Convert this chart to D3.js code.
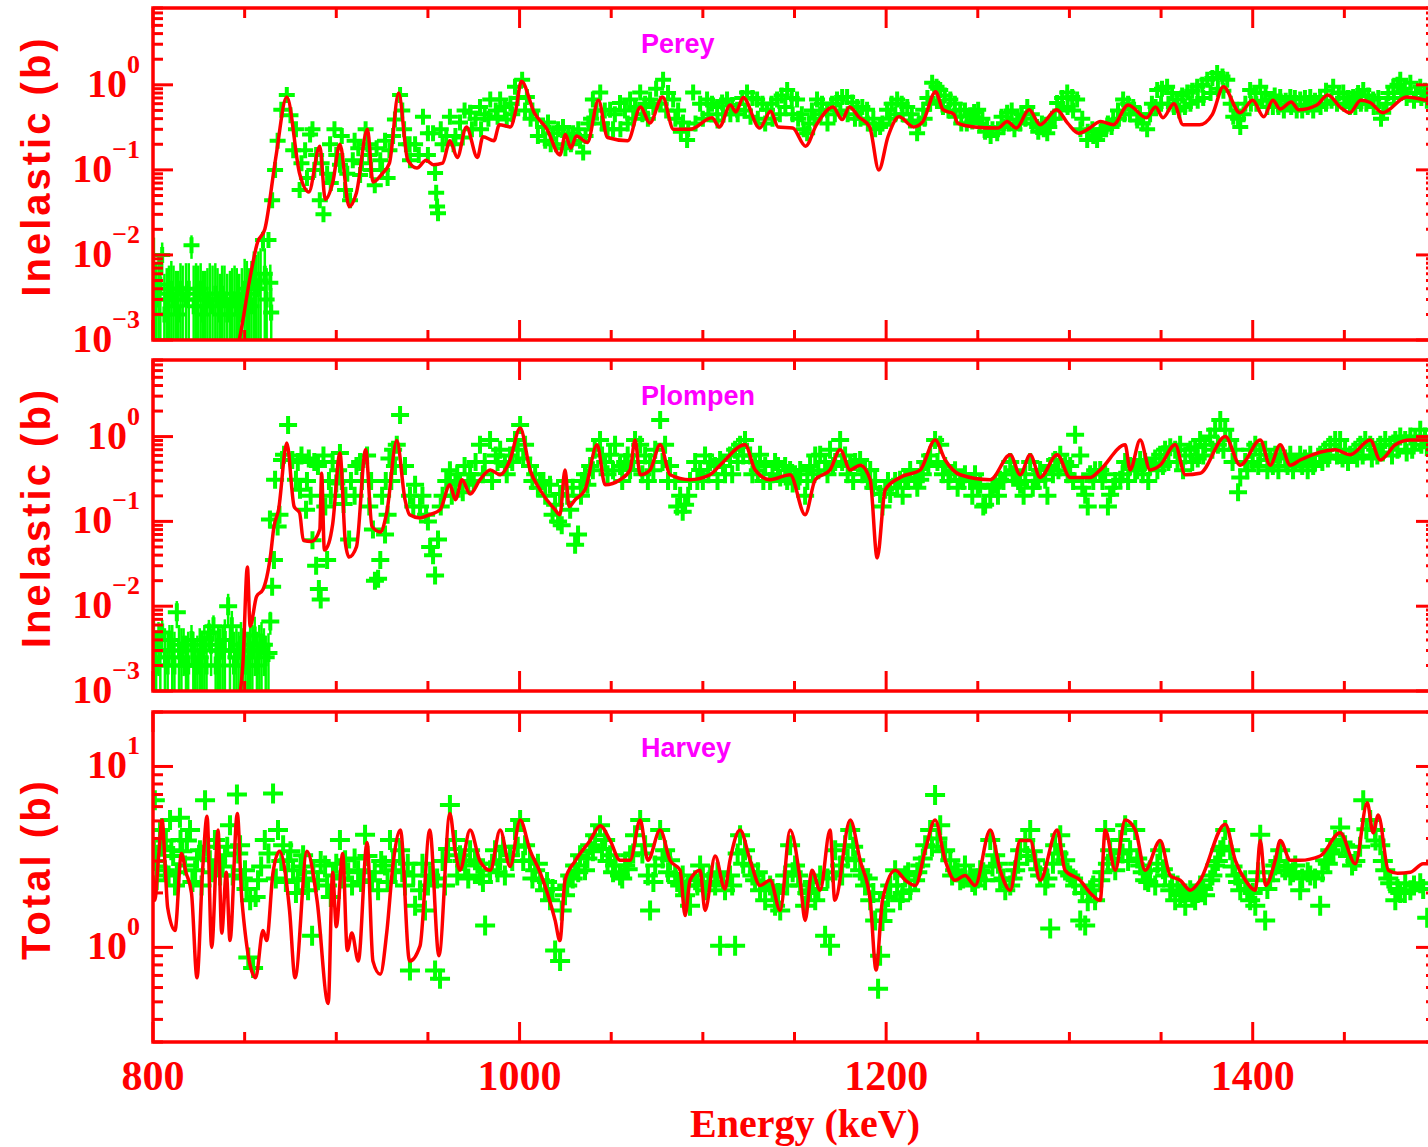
<!DOCTYPE html>
<html>
<head>
<meta charset="utf-8">
<script src="https://cdn.jsdelivr.net/npm/d3@7"></script>
<style>
  body { margin: 0; background: #fff; }
  svg { display: block; }
</style>
</head>
<body>
<svg id="chart"></svg>
<script>
// ---- data: [energy keV, cross section b] ----

const energyTicks = [800, 1000, 1200, 1400];

// Perey (inelastic)
const pereyModel = [[845,0.0007],[847,0.001],[853,0.0055],[857,0.014],[861,0.02],[867,0.14],[873,0.72],[880,0.09],[885,0.055],[891,0.19],[894,0.045],[898,0.07],[902,0.2],[907,0.037],[911,0.054],[917,0.3],[920,0.072],[925,0.09],[929,0.12],[934,0.8],[939,0.13],[944,0.105],[949,0.13],[953,0.115],[958,0.12],[962,0.22],[966,0.14],[971,0.32],[977,0.14],[980,0.245],[986,0.22],[989,0.34],[995,0.32],[998,0.51],[1001,1.1],[1008,0.47],[1015,0.3],[1022,0.15],[1025,0.26],[1028,0.18],[1031,0.25],[1037,0.21],[1043,0.66],[1048,0.24],[1059,0.22],[1066,0.55],[1071,0.355],[1078,0.72],[1084,0.3],[1093,0.3],[1105,0.41],[1109,0.32],[1115,0.58],[1118,0.48],[1122,0.71],[1131,0.31],[1137,0.49],[1141,0.32],[1149,0.31],[1156,0.19],[1162,0.34],[1171,0.55],[1176,0.39],[1180,0.55],[1185,0.42],[1191,0.32],[1196,0.10],[1201,0.245],[1207,0.42],[1215,0.32],[1220,0.37],[1227,0.83],[1231,0.51],[1237,0.45],[1239,0.355],[1248,0.32],[1261,0.31],[1266,0.37],[1271,0.31],[1278,0.51],[1284,0.34],[1293,0.51],[1299,0.355],[1305,0.27],[1311,0.31],[1317,0.37],[1324,0.34],[1332,0.58],[1342,0.41],[1347,0.55],[1351,0.41],[1357,0.60],[1362,0.34],[1371,0.34],[1378,0.45],[1384,0.95],[1393,0.47],[1400,0.66],[1406,0.42],[1411,0.66],[1415,0.52],[1421,0.63],[1425,0.51],[1435,0.58],[1441,0.76],[1448,0.54],[1453,0.47],[1459,0.66],[1464,0.62],[1471,0.47],[1484,0.72],[1495,0.66],[1500,0.64]];

// [energy, value, error] below threshold
const pereyLow = [[800.5,0.005,0.011],[801.7,0.003,0.005],[803,0.004,0.006],[804,0.0045,0.005],[805,0.01,0.004],[806.2,0.002,0.004],[807.5,0.003,0.004],[808.7,0.0035,0.004],[810,0.004,0.0045],[811.2,0.003,0.0045],[812.5,0.0025,0.004],[813.7,0.002,0.0045],[815,0.004,0.004],[816.2,0.0035,0.004],[818,0.003,0.005],[819.5,0.004,0.004],[821,0.013,0.004],[822.2,0.0025,0.005],[823.5,0.003,0.005],[824.7,0.0035,0.004],[826,0.004,0.004],[827.2,0.002,0.0045],[828.5,0.0025,0.004],[829.7,0.003,0.004],[831,0.003,0.005],[832.5,0.0025,0.005],[834,0.0035,0.0045],[835.2,0.003,0.004],[836.5,0.002,0.004],[837.7,0.0035,0.004],[839,0.003,0.0045],[840.5,0.002,0.004],[842,0.0025,0.004],[843.2,0.003,0.004],[844.5,0.003,0.0045],[845.7,0.0025,0.0045],[847,0.002,0.004],[848.5,0.003,0.004],[850,0.004,0.005],[851.2,0.0035,0.005],[852.5,0.003,0.004],[853.7,0.0025,0.006],[855,0.005,0.006],[856.2,0.004,0.006],[857.5,0.004,0.007],[858.7,0.005,0.007],[860,0.015,0.004],[861,0.006,0.006],[862,0.003,0.004],[864,0.0047,0.003],[864.5,0.0021,0.002]];

const pereyData = [[863,0.015],[865,0.044],[866.6,0.10],[868,0.22],[870,0.51],[873,0.76],[875,0.44],[876.5,0.17],[880,0.058],[883,0.17],[885.7,0.26],[888,0.10],[891,0.044],[893,0.03],[896.6,0.20],[899,0.30],[902,0.115],[904.8,0.058],[907.5,0.044],[910,0.22],[913,0.087],[916,0.30],[918,0.15],[921,0.066],[924,0.13],[926.6,0.22],[929,0.17],[932,0.39],[934.8,0.76],[937,0.30],[940.2,0.13],[943,0.2],[947.3,0.42],[950,0.15],[952.8,0.27],[953.9,0.092],[954.5,0.054],[955,0.037],[955.5,0.031],[958,0.2],[962,0.42],[965,0.25],[967.5,0.36],[970,0.5],[973,0.47],[976,0.4],[978.4,0.55],[981,0.45],[984,0.67],[987,0.5],[989.4,0.67],[993,0.39],[995,0.6],[997.5,0.95],[1001.4,1.15],[1004,0.72],[1007,0.5],[1009.5,0.39],[1012.8,0.32],[1015.5,0.36],[1018.3,0.27],[1021,0.3],[1023.7,0.32],[1026.5,0.25],[1029.2,0.27],[1032,0.3],[1034.7,0.16],[1037.5,0.35],[1040,0.67],[1044,0.81],[1046.5,0.5],[1049.4,0.51],[1052,0.45],[1054.8,0.61],[1057.5,0.5],[1060.3,0.67],[1063,0.55],[1065.8,0.81],[1068.5,0.6],[1071.2,0.67],[1074.5,0.9],[1078.3,1.15],[1081,0.8],[1083.8,0.67],[1086.5,0.5],[1089.2,0.36],[1091.4,0.225],[1094.7,0.81],[1098.5,0.6],[1102.3,0.67],[1105,0.6],[1107.8,0.55],[1110.5,0.62],[1113.2,0.67],[1116,0.58],[1118.7,0.51],[1121.5,0.7],[1124.1,0.81],[1127,0.7],[1129.6,0.67],[1132.5,0.6],[1135,0.51],[1137.5,0.6],[1140.5,0.67],[1143,0.75],[1146,0.87],[1148.5,0.7],[1151.4,0.67],[1154,0.45],[1156.9,0.27],[1159.5,0.5],[1162.3,0.67],[1165,0.6],[1167.8,0.51],[1170.5,0.6],[1173.2,0.67],[1176,0.72],[1178.7,0.72],[1181.5,0.62],[1184.2,0.55],[1187,0.55],[1189.6,0.51],[1193,0.4],[1196.7,0.32],[1200.5,0.51],[1203,0.6],[1206,0.67],[1208.5,0.6],[1211.5,0.55],[1214,0.45],[1216.9,0.27],[1220.2,0.51],[1222.5,0.7],[1225.1,1.06],[1227.5,0.95],[1229.5,0.87],[1232,0.75],[1235,0.67],[1237.5,0.6],[1240.4,0.51],[1243,0.5],[1245.8,0.44],[1248,0.48],[1250.2,0.51],[1252.5,0.4],[1255.1,0.32],[1258,0.3],[1260.6,0.27],[1263,0.42],[1266,0.47],[1268.5,0.5],[1271.5,0.39],[1274,0.45],[1277,0.55],[1279.5,0.45],[1282.4,0.32],[1285,0.35],[1287.9,0.27],[1290.5,0.4],[1293.3,0.61],[1296,0.7],[1298.8,0.81],[1301.5,0.72],[1304.2,0.67],[1307,0.4],[1309.7,0.225],[1312.5,0.3],[1315.1,0.225],[1318.4,0.3],[1321,0.35],[1323.9,0.39],[1326.5,0.5],[1329.3,0.67],[1332,0.6],[1334.8,0.55],[1338.5,0.45],[1342.4,0.3],[1345,0.6],[1347.9,0.87],[1350.5,0.9],[1353.3,0.95],[1356,0.8],[1358.8,0.67],[1361.5,0.75],[1364.3,0.81],[1367,0.85],[1369.7,0.95],[1372.5,1.0],[1375.2,1.15],[1378,1.2],[1380.6,1.38],[1383.5,1.25],[1386.1,1.15],[1389.4,0.42],[1391.5,0.5],[1393.2,0.32],[1396,0.6],[1398.6,0.87],[1401.5,0.8],[1404.1,0.95],[1407,0.8],[1409.5,0.67],[1412,0.75],[1415,0.72],[1418,0.65],[1420.5,0.72],[1423,0.7],[1425.9,0.67],[1428.5,0.7],[1431.4,0.72],[1434,0.65],[1436.8,0.72],[1440,0.85],[1443.9,0.95],[1447,0.8],[1449.4,0.81],[1452,0.7],[1454.8,0.72],[1457.5,0.8],[1460.3,0.87],[1463,0.75],[1465.7,0.67],[1468.5,0.7],[1471.2,0.47],[1474,0.8],[1476.7,0.95],[1479,1.0],[1480.5,1.15],[1483,0.9],[1486,1.06],[1489,0.8],[1491.4,0.95],[1494,0.85]];

// lower half of the dense Perey band
const pereyBand = [[878,0.3],[881,0.12],[884,0.08],[887,0.3],[889,0.15],[892,0.12],[895,0.09],[897,0.07],[900,0.15],[903,0.25],[906,0.09],[909,0.13],[912,0.18],[914,0.12],[917,0.2],[919,0.1],[922,0.18],[925,0.1],[928,0.08],[931,0.25],[936,0.5],[938,0.2],[940,0.2],[945,0.15],[950,0.27],[957,0.3],[960,0.25],[964,0.2],[969,0.24],[974,0.3],[979,0.3],[983,0.4],[988,0.42],[992,0.55],[996,0.45],[999,0.7],[1003,0.5],[1006,0.4],[1010,0.25],[1014,0.22],[1017,0.2],[1020,0.2],[1025,0.18],[1028,0.2],[1033,0.22],[1036,0.25],[1039,0.4],[1042,0.5],[1045,0.35],[1048,0.3],[1051,0.3],[1055,0.3],[1059,0.35],[1062,0.4],[1067,0.45],[1070,0.4],[1073,0.55],[1077,0.6],[1080,0.5],[1085,0.4],[1088,0.28],[1092,0.3],[1096,0.35],[1100,0.4],[1103,0.45],[1108,0.38],[1111,0.45],[1115,0.45],[1119,0.45],[1123,0.5],[1126,0.42],[1130,0.4],[1134,0.35],[1138,0.4],[1142,0.45],[1145,0.55],[1149,0.45],[1152,0.4],[1155,0.3],[1158,0.35],[1161,0.4],[1164,0.45],[1168,0.35],[1172,0.45],[1175,0.5],[1179,0.45],[1183,0.4],[1186,0.4],[1190,0.35],[1194,0.3],[1198,0.35],[1202,0.4],[1205,0.45],[1209,0.45],[1213,0.38],[1218,0.35],[1221,0.4],[1224,0.6],[1228,0.65],[1231,0.55],[1234,0.5],[1238,0.42],[1241,0.35],[1244,0.35],[1247,0.37],[1251,0.35],[1254,0.28],[1257,0.25],[1261,0.3],[1264,0.32],[1267,0.35],[1270,0.3],[1273,0.35],[1276,0.4],[1280,0.35],[1283,0.28],[1286,0.3],[1289,0.32],[1292,0.4],[1295,0.5],[1299,0.55],[1302,0.5],[1306,0.3],[1310,0.28],[1313,0.25],[1317,0.28],[1320,0.3],[1323,0.32],[1327,0.4],[1330,0.45],[1333,0.45],[1337,0.38],[1340,0.35],[1344,0.45],[1347,0.55],[1350,0.6],[1354,0.6],[1357,0.55],[1360,0.5],[1363,0.55],[1366,0.6],[1370,0.65],[1373,0.7],[1377,0.8],[1381,0.9],[1384,0.85],[1388,0.6],[1392,0.4],[1395,0.45],[1399,0.6],[1402,0.6],[1405,0.65],[1408,0.55],[1411,0.55],[1414,0.55],[1417,0.5],[1421,0.55],[1424,0.5],[1427,0.5],[1430,0.55],[1433,0.5],[1437,0.55],[1440,0.6],[1443,0.65],[1446,0.6],[1450,0.6],[1453,0.55],[1456,0.55],[1459,0.6],[1462,0.6],[1466,0.55],[1470,0.4],[1473,0.6],[1477,0.7],[1481,0.8],[1484,0.7],[1488,0.65],[1492,0.7],[1495,0.65]];

// Plompen (inelastic)
const plompenModel = [[845,0.0006],[847,0.0008],[849,0.002],[851.5,0.029],[853,0.0058],[856.5,0.013],[860,0.0157],[864,0.038],[866,0.087],[868.5,0.137],[873,0.84],[877,0.15],[880,0.126],[882,0.06],[886.5,0.058],[891,0.08],[892,0.37],[893.5,0.046],[896,0.056],[898,0.092],[902,0.64],[905,0.055],[907,0.038],[911,0.05],[916,0.7],[919.5,0.087],[924,0.075],[927.5,0.126],[933,0.9],[937.5,0.18],[940,0.12],[945.7,0.11],[951,0.12],[956.6,0.137],[962,0.27],[965,0.18],[968.6,0.31],[973,0.21],[978.4,0.31],[984,0.405],[989.4,0.355],[994.8,0.53],[1000.3,1.26],[1005.7,0.405],[1011.2,0.236],[1019.4,0.137],[1022,0.12],[1024.8,0.405],[1027,0.15],[1030.3,0.18],[1035.7,0.236],[1042.3,0.8],[1046.7,0.27],[1054.8,0.31],[1060.3,0.405],[1063,0.91],[1065.8,0.355],[1071.2,0.405],[1076.7,0.8],[1082.1,0.355],[1093,0.31],[1103.9,0.355],[1109.4,0.46],[1123,0.8],[1128.5,0.405],[1136.7,0.31],[1147.6,0.355],[1155.8,0.12],[1161.3,0.31],[1169.4,0.405],[1174.9,0.7],[1180.4,0.405],[1185.8,0.46],[1191.3,0.31],[1195.1,0.037],[1199.5,0.236],[1207.6,0.33],[1218.6,0.405],[1226.7,0.91],[1232.2,0.53],[1240.4,0.355],[1256.8,0.31],[1267.7,0.61],[1273.1,0.355],[1278.6,0.61],[1284,0.33],[1293.3,0.61],[1300.4,0.33],[1311.3,0.33],[1316.8,0.405],[1330.4,0.8],[1333.1,0.405],[1338.6,0.91],[1344,0.405],[1349.5,0.46],[1357.7,0.8],[1363.2,0.355],[1371.3,0.37],[1385,1.0],[1393.2,0.46],[1404.1,0.91],[1409.5,0.46],[1415,0.8],[1420.5,0.46],[1425.9,0.53],[1445,0.7],[1453.2,0.61],[1464.1,0.91],[1469.6,0.53],[1477.8,0.8],[1486,0.91],[1495,0.91],[1500,0.9]];

const plompenLow = [[800.5,0.003,0.004],[801.7,0.002,0.003],[803,0.004,0.0025],[804,0.003,0.003],[805,0.0049,0.002],[806.5,0.0025,0.003],[808,0.002,0.003],[809,0.004,0.002],[810.5,0.003,0.003],[811.7,0.002,0.003],[813,0.0085,0.003],[814.2,0.003,0.003],[815.5,0.0025,0.003],[816.7,0.0035,0.002],[818,0.002,0.0025],[819.2,0.002,0.003],[821,0.004,0.002],[822,0.003,0.002],[823,0.002,0.002],[824.2,0.002,0.0025],[825.5,0.0025,0.003],[826.7,0.003,0.002],[828,0.0035,0.0025],[829.2,0.002,0.003],[830.5,0.0049,0.002],[831.7,0.0035,0.002],[833,0.0058,0.002],[834.2,0.002,0.003],[835.5,0.003,0.003],[836.7,0.003,0.0025],[838,0.003,0.003],[839.2,0.004,0.003],[841,0.01,0.004],[842,0.003,0.003],[843,0.0058,0.003],[844.2,0.002,0.003],[845.5,0.0025,0.003],[846.7,0.003,0.002],[848,0.0035,0.003],[849.2,0.0025,0.003],[850.5,0.002,0.003],[851.7,0.002,0.003],[853,0.003,0.003],[854.2,0.003,0.003],[855.5,0.0045,0.003],[856.7,0.002,0.003],[858,0.003,0.003],[859.2,0.0035,0.003],[860.5,0.0035,0.002],[861.5,0.0025,0.002],[863,0.0028,0.002],[864,0.0066,0.002]];

const plompenData = [[863.8,0.105],[865,0.017],[866,0.035],[866.6,0.31],[868,0.087],[869,0.12],[870.4,0.53],[871.5,0.61],[873.7,1.37],[876,0.53],[878,0.31],[880.2,0.236],[883.5,0.137],[885,0.55],[887,0.06],[889,0.03],[890.5,0.016],[891.5,0.012],[893,0.6],[895,0.035],[897,0.2],[900,0.28],[902,0.64],[904,0.16],[907,0.061],[910,0.2],[913,0.5],[916.8,0.6],[919,0.3],[921.1,0.02],[922.8,0.021],[924,0.035],[926.6,0.07],[928,0.12],[930,0.3],[932,0.45],[934.8,1.8],[937.5,0.45],[940.2,0.2],[943,0.27],[945.7,0.15],[949,0.12],[951.2,0.05],[952.8,0.04],[953.9,0.023],[955.5,0.061],[958,0.2],[962,0.4],[965,0.27],[967.5,0.3],[970,0.45],[973,0.36],[976,0.5],[978.4,0.8],[981,0.5],[983.9,0.91],[987,0.6],[989.4,0.7],[992,0.45],[994.8,0.6],[997.5,0.91],[1000.3,1.37],[1003,0.8],[1005.7,0.45],[1008.5,0.36],[1011.2,0.3],[1014,0.2],[1016.6,0.27],[1019.4,0.157],[1021,0.1],[1022.1,0.21],[1024.8,0.3],[1027.6,0.137],[1030.3,0.053],[1031.9,0.07],[1033.5,0.2],[1035.7,0.36],[1038.5,0.45],[1041,0.7],[1043.9,0.91],[1046.7,0.5],[1049.4,0.61],[1052.1,0.8],[1054.8,0.45],[1057.6,0.5],[1060.3,0.405],[1063,0.91],[1065.8,0.8],[1068.5,0.6],[1071.2,0.5],[1074,0.7],[1076.7,1.57],[1079.4,0.8],[1082.1,0.45],[1084.9,0.3],[1087.6,0.2],[1090.3,0.157],[1093,0.3],[1095.8,0.5],[1098.5,0.405],[1101.2,0.6],[1104,0.5],[1106.7,0.45],[1109.4,0.53],[1112.1,0.36],[1114.8,0.6],[1117.6,0.7],[1120.3,0.8],[1123,0.91],[1125.8,0.6],[1128.5,0.5],[1131.2,0.61],[1134,0.45],[1136.7,0.3],[1139.4,0.5],[1142.2,0.33],[1144.9,0.45],[1147.6,0.405],[1150.3,0.36],[1153.1,0.405],[1155.8,0.2],[1158.5,0.45],[1161.3,0.6],[1164,0.61],[1166.7,0.5],[1169.4,0.7],[1172.2,0.5],[1174.9,0.91],[1177.6,0.6],[1180.4,0.45],[1183.1,0.5],[1185.8,0.53],[1188.5,0.4],[1191.3,0.405],[1194,0.3],[1196.7,0.21],[1199.5,0.236],[1202.2,0.21],[1204.9,0.3],[1207.6,0.31],[1210.4,0.3],[1213.1,0.405],[1215.8,0.33],[1218.6,0.31],[1221.3,0.5],[1224,0.6],[1226.7,0.91],[1229.5,0.8],[1232.2,0.45],[1235,0.36],[1237.6,0.4],[1240.4,0.31],[1243,0.36],[1245.8,0.3],[1248.5,0.36],[1251.3,0.27],[1254,0.157],[1256.8,0.2],[1259.5,0.27],[1262.2,0.31],[1265,0.36],[1267.7,0.5],[1270.4,0.4],[1273.1,0.27],[1275.9,0.36],[1278.6,0.5],[1281.3,0.3],[1284,0.405],[1286.8,0.31],[1289.5,0.45],[1292.2,0.53],[1295,0.61],[1297.7,0.5],[1300.4,0.45],[1303.1,1.05],[1305.9,0.6],[1308.6,0.206],[1311.3,0.36],[1314,0.4],[1316.8,0.405],[1319.5,0.36],[1322.2,0.206],[1325,0.3],[1327.7,0.31],[1330.4,0.5],[1333.1,0.45],[1335.9,0.4],[1338.6,0.53],[1341.3,0.5],[1344,0.45],[1346.8,0.55],[1349.5,0.61],[1352.2,0.7],[1355,0.75],[1357.7,0.7],[1360.4,0.8],[1363.2,0.6],[1366,0.7],[1368.6,0.75],[1371.3,0.91],[1374,0.8],[1376.8,1.0],[1379.5,1.2],[1382.3,1.57],[1385,1.2],[1387.7,0.91],[1390.5,0.7],[1393.2,0.33],[1395.9,0.5],[1398.6,0.7],[1401.4,0.8],[1404.1,0.61],[1406.8,0.7],[1409.5,0.53],[1412.3,0.61],[1415,0.61],[1417.7,0.55],[1420.5,0.61],[1423.2,0.5],[1425.9,0.61],[1428.5,0.55],[1431.4,0.61],[1434,0.5],[1436.8,0.61],[1439.5,0.7],[1442.3,0.8],[1445,0.91],[1447.7,0.91],[1450.4,0.7],[1453.2,0.61],[1456,0.7],[1458.7,0.8],[1461.4,0.91],[1464.1,0.8],[1466.8,0.7],[1469.6,0.8],[1472.3,0.91],[1475,0.8],[1477.8,0.91],[1480.5,1.0],[1483.2,0.91],[1486,1.0],[1488.7,0.91],[1491.4,1.2],[1494,1.0]];

const plompenBand = [[879,0.5],[881,0.6],[884,0.3],[886,0.2],[888,0.5],[890,0.45],[894,0.15],[896,0.3],[898,0.5],[901,0.4],[903,0.3],[905,0.2],[908,0.3],[911,0.45],[914,0.3],[918,0.15],[920,0.08],[925,0.2],[927,0.3],[929,0.55],[931,0.7],[933,0.8],[942,0.15],[947,0.2],[950,0.1],[957,0.15],[960,0.3],[963,0.2],[966,0.36],[969,0.22],[972,0.27],[975,0.3],[980,0.36],[985,0.3],[988,0.5],[993,0.36],[996,0.5],[999,0.7],[1002,0.55],[1007,0.3],[1010,0.25],[1013,0.3],[1018,0.12],[1023,0.09],[1026,0.2],[1029,0.25],[1034,0.3],[1037,0.27],[1040,0.4],[1045,0.6],[1048,0.36],[1051,0.4],[1056,0.3],[1059,0.6],[1062,0.5],[1067,0.36],[1070,0.3],[1073,0.4],[1078,0.5],[1081,0.3],[1086,0.15],[1089,0.13],[1092,0.2],[1097,0.3],[1100,0.3],[1103,0.36],[1108,0.3],[1111,0.45],[1116,0.36],[1119,0.5],[1122,0.6],[1127,0.36],[1130,0.4],[1133,0.3],[1138,0.36],[1141,0.45],[1146,0.3],[1149,0.28],[1152,0.3],[1157,0.3],[1160,0.36],[1163,0.4],[1168,0.36],[1171,0.45],[1176,0.5],[1179,0.36],[1182,0.3],[1187,0.36],[1190,0.3],[1193,0.25],[1198,0.15],[1201,0.3],[1206,0.25],[1209,0.2],[1212,0.3],[1217,0.25],[1220,0.36],[1223,0.45],[1228,0.5],[1231,0.36],[1234,0.3],[1239,0.25],[1242,0.3],[1247,0.2],[1250,0.25],[1253,0.15],[1258,0.25],[1261,0.2],[1264,0.3],[1269,0.36],[1272,0.3],[1275,0.2],[1280,0.25],[1283,0.3],[1288,0.2],[1291,0.36],[1294,0.4],[1299,0.36],[1302,0.3],[1307,0.25],[1310,0.15],[1313,0.3],[1318,0.3],[1321,0.15],[1324,0.25],[1329,0.36],[1332,0.3],[1337,0.4],[1340,0.36],[1343,0.3],[1348,0.4],[1351,0.45],[1354,0.5],[1359,0.5],[1362,0.4],[1367,0.5],[1370,0.55],[1373,0.6],[1378,0.7],[1381,0.8],[1384,0.7],[1389,0.5],[1392,0.22],[1397,0.4],[1400,0.5],[1403,0.45],[1408,0.4],[1411,0.45],[1414,0.4],[1419,0.45],[1422,0.4],[1427,0.45],[1430,0.4],[1433,0.45],[1438,0.5],[1441,0.55],[1446,0.6],[1449,0.55],[1452,0.5],[1457,0.55],[1460,0.6],[1465,0.55],[1468,0.6],[1471,0.65],[1476,0.6],[1479,0.7],[1484,0.65],[1487,0.7],[1492,0.8],[1495,0.75]];

// Harvey (total)
const harveyModel = [[800,2.5],[801,1.82],[803,3.15],[805,5.06],[806.5,3.0],[808,1.66],[812,1.24],[815.5,3.3],[818,2.6],[821,2.0],[824,0.68],[827,2.6],[829.5,5.3],[832,1.0],[835.5,4.45],[837.5,1.2],[840,2.6],[842,1.09],[846,5.5],[848.5,1.82],[856,0.68],[860,1.24],[862,1.09],[865.5,2.6],[869,3.4],[874.5,1.6],[877.5,0.68],[884,3.4],[889.5,1.82],[895.6,0.49],[898,2.6],[900,1.3],[903.5,3.3],[906,0.96],[908.5,1.2],[912,0.84],[916.8,3.8],[920,0.84],[924,0.71],[927.5,1.2],[931,2.9],[935,4.45],[940,0.84],[945.7,1.02],[951,4.45],[956,0.9],[962,5.5],[964.8,3.44],[967.5,2.67],[973,4.45],[978.4,3.0],[984,2.67],[989.4,4.45],[994.8,2.8],[1000.3,5.06],[1005.7,3.44],[1011.2,2.6],[1019.4,1.41],[1022,1.09],[1024.8,2.35],[1030.3,3.0],[1038.5,3.9],[1044,4.7],[1049.4,3.9],[1054.8,3.03],[1060.3,3.03],[1065.8,5.06],[1070,3.03],[1076.7,4.45],[1082.1,3.03],[1087.6,2.67],[1090.3,1.5],[1093,2.35],[1098.5,2.67],[1101.2,1.6],[1106.7,3.2],[1112,2.1],[1114.8,3.03],[1120.3,4.45],[1125.8,3.03],[1131.2,2.2],[1136.7,2.35],[1142.2,1.6],[1147.6,4.45],[1153.1,2.35],[1155.8,1.41],[1159.5,2.67],[1164,2.07],[1169.4,4.45],[1172,1.82],[1180.4,5.06],[1185.8,3.03],[1191.3,1.82],[1194.5,0.75],[1198,1.82],[1205,2.67],[1210.5,2.35],[1216,2.2],[1221.3,3.44],[1226.7,5.06],[1232.2,3.03],[1237.6,2.35],[1243,2.5],[1248.5,2.2],[1256.8,4.45],[1262.2,2.67],[1267.7,2.07],[1273.1,3.9],[1278.6,3.9],[1284,2.35],[1293.3,4.45],[1297.6,2.67],[1305.8,2.35],[1311.3,2.0],[1316.8,1.82],[1319.5,4.45],[1325,2.67],[1330.4,5.06],[1336,4.45],[1341.3,2.67],[1349.5,3.9],[1355,2.5],[1360.4,2.35],[1366,2.07],[1371.3,2.35],[1385,4.8],[1390.5,3.03],[1396,2.35],[1401.5,2.07],[1404.1,3.9],[1407,2.2],[1412.3,3.03],[1415,3.9],[1420.5,3.03],[1425.9,3.03],[1436.8,3.2],[1447.7,4.3],[1456,2.9],[1462.5,6.3],[1465.7,4.3],[1468.5,5.4],[1474,2.67],[1479,2.57],[1486,2.6],[1493,2.9],[1500,2.9]];

const harveyData = [[801,6.5],[801.5,3.0],[802,2.35],[803.8,4.45],[806.5,2.67],[809.3,5.06],[810,3.44],[812,2.2],[814.7,5.2],[815,3.92],[817.5,2.84],[820.2,4.45],[823,2.67],[825.6,3.44],[828.4,6.5],[831,3.03],[833.8,3.92],[836.6,2.5],[839.3,3.23],[842,4.74],[845.8,7.0],[847.5,3.67],[850.2,2.67],[852,0.88],[853,1.82],[854.6,0.77],[857.3,2.35],[861,3.92],[865.5,7.1],[868.2,4.45],[871,3.67],[873.7,3.03],[876.4,2.67],[879,2.35],[881.9,3.23],[884.6,2.07],[886.8,1.16],[890,2.35],[893.9,2.84],[898.2,2.5],[902,3.92],[904.8,3.03],[908.6,2.2],[911.9,2.67],[915.7,4.2],[919.5,2.35],[922.8,2.07],[926.6,2.84],[929.3,3.92],[932,2.67],[934.8,3.44],[937.5,2.2],[940.2,0.745],[943,1.7],[945.7,2.07],[948.4,1.6],[951.2,2.5],[953.9,0.745],[956.6,0.67],[959.3,2.2],[962,6.13],[964.8,3.92],[967.5,3.23],[970.3,2.84],[973,3.44],[975.7,3.03],[978.4,2.5],[981.2,1.32],[983.9,2.67],[986.6,3.44],[989.4,3.03],[992,2.5],[994.8,3.23],[997.5,4.45],[1000.3,5.06],[1003,3.67],[1005.7,3.03],[1008.5,2.67],[1011.2,2.35],[1013.9,2.07],[1016.6,1.82],[1019.4,0.96],[1022.1,0.84],[1024.8,1.94],[1027.6,2.5],[1030.3,2.84],[1033,3.23],[1035.7,2.67],[1038.5,3.67],[1041.2,4.17],[1043.9,4.74],[1046.7,3.92],[1049.4,3.23],[1052.1,2.84],[1054.8,2.5],[1057.6,2.84],[1060.3,3.23],[1063,4.17],[1065.8,5.06],[1068.5,3.67],[1071.2,1.6],[1074,2.84],[1076.7,4.45],[1079.4,3.44],[1082.1,3.03],[1084.9,2.5],[1087.6,2.2],[1090.3,1.94],[1093,1.7],[1095.8,2.35],[1098.5,2.84],[1101.2,2.07],[1104,2.5],[1106.7,2.2],[1109.4,1.02],[1112.1,2.07],[1114.8,2.5],[1117.6,1.02],[1120.3,4.17],[1123,3.44],[1125.8,2.84],[1128.5,2.35],[1131.2,2.07],[1134,1.82],[1136.7,2.2],[1139.4,1.7],[1142.2,1.6],[1144.9,2.5],[1147.6,3.67],[1150.3,2.84],[1153.1,2.2],[1155.8,1.7],[1158.5,2.07],[1161.3,1.82],[1164,2.5],[1166.7,1.16],[1169.4,1.02],[1172.2,3.44],[1174.9,2.84],[1177.6,3.67],[1180.4,4.45],[1183.1,3.03],[1185.8,2.67],[1188.5,2.2],[1191.3,1.82],[1194,1.41],[1195.6,0.59],[1196.7,0.9],[1199.5,1.6],[1202.2,2.2],[1204.9,2.67],[1207.6,1.82],[1210.4,2.5],[1213.1,2.07],[1215.8,2.35],[1218.6,2.84],[1221.3,3.67],[1224,4.45],[1226.7,6.96],[1229.5,4.74],[1232.2,3.44],[1235,3.03],[1237.6,2.67],[1240.4,2.35],[1243,2.84],[1245.8,2.5],[1248.5,2.2],[1251.3,2.67],[1254,2.35],[1256.8,3.92],[1259.5,3.23],[1262.2,2.35],[1265,2.07],[1267.7,2.2],[1270.4,2.67],[1273.1,3.44],[1275.9,3.92],[1278.6,4.45],[1281.3,3.03],[1284,2.5],[1286.8,2.2],[1289.5,1.27],[1292.2,3.67],[1295,4.17],[1297.7,3.03],[1300.4,2.5],[1303.1,2.2],[1305.9,1.41],[1308.6,1.32],[1311.3,2.07],[1314,1.82],[1316.8,2.35],[1319.5,4.45],[1322.2,3.44],[1325,2.67],[1327.7,3.92],[1330.4,4.74],[1333.1,3.44],[1335.9,4.45],[1338.6,2.84],[1341.3,2.35],[1344,2.67],[1346.8,2.2],[1349.5,3.44],[1352.2,2.5],[1355,2.07],[1357.7,1.82],[1360.4,1.94],[1363.2,1.7],[1365.9,2.07],[1368.6,1.82],[1371.3,2.2],[1374,1.94],[1376.8,2.35],[1379.5,2.84],[1382.3,3.44],[1385,4.45],[1387.7,3.44],[1390.5,2.5],[1393.2,2.07],[1395.9,2.35],[1398.6,1.82],[1401.4,1.7],[1404.1,4.2],[1406.8,1.41],[1409.5,2.35],[1412.3,2.84],[1415,3.44],[1417.7,2.67],[1420.5,2.5],[1423.2,2.84],[1425.9,2.07],[1431.4,2.5],[1436.8,1.7],[1439.5,3.03],[1442.3,3.44],[1445,3.92],[1447.7,4.6],[1450.4,3.67],[1454.2,2.84],[1458.6,3.6],[1460.3,6.5],[1464.1,5.06],[1466.8,4.45],[1469.6,3.67],[1472.3,2.67],[1475,2.26],[1477.8,1.82],[1480.5,2.0],[1483.2,2.26],[1486,2.07],[1491.4,2.26],[1495.2,1.46]];

const harveyBand = [[800.5,3.5],[802.5,2.8],[804.5,3.6],[807,3.9],[808.5,2.5],[811,3.2],[813,2.6],[816,3.4],[818.5,3.9],[821.5,2.3],[824,3.1],[826.5,2.2],[829.5,3.6],[832.5,2.6],[835,3.0],[838,2.8],[840.5,3.6],[843.5,2.5],[846.5,3.3],[849,2.4],[851,2.1],[856,1.9],[859,2.8],[863,3.3],[867,2.4],[870,3.0],[872.5,2.3],[875,3.4],[878,2.0],[880.5,2.8],[883,2.4],[887.5,2.6],[891.5,3.0],[895,2.2],[897,1.9],[900,2.9],[903,2.4],[906.5,2.6],[910,3.1],[913.5,2.3],[917,3.2],[921,2.6],[924.5,3.0],[928,2.3],[931,3.0],[936,2.6],[939,2.9],[942,2.5],[947,2.9],[950,2.2],[955,2.4],[958,3.0],[961,3.5],[966,2.5],[969,3.0],[972,2.4],[977,2.9],[980,2.3],[985,2.9],[988,2.6],[991,3.6],[996,3.0],[999,3.6],[1002,3.0],[1007,2.4],[1010,2.9],[1015,2.3],[1018,2.1],[1023,1.6],[1026,2.2],[1029,2.4],[1032,2.6],[1037,3.1],[1040,3.4],[1045,3.5],[1048,3.0],[1051,2.6],[1056,2.4],[1059,2.7],[1062,3.3],[1067,3.3],[1070,2.5],[1073,2.3],[1078,3.1],[1081,2.6],[1086,2.3],[1089,2.5],[1092,2.2],[1097,2.2],[1100,2.5],[1103,2.3],[1108,2.6],[1111,2.3],[1116,2.2],[1119,3.3],[1122,2.9],[1127,2.5],[1130,2.6],[1133,2.3],[1138,2.1],[1141,2.0],[1146,2.2],[1149,2.6],[1152,2.5],[1157,2.0],[1160,2.3],[1163,2.1],[1168,2.4],[1171,2.6],[1176,2.5],[1179,3.1],[1182,3.6],[1187,2.5],[1190,2.4],[1193,2.0],[1198,1.4],[1201,1.9],[1206,2.2],[1209,2.0],[1212,2.6],[1217,2.6],[1220,3.1],[1225,3.6],[1228,4.0],[1231,3.4],[1236,2.5],[1239,2.6],[1242,2.4],[1247,2.3],[1250,2.4],[1253,2.6],[1258,2.8],[1261,2.9],[1264,2.4],[1269,2.4],[1272,2.9],[1277,3.2],[1280,3.4],[1283,2.7],[1288,2.4],[1291,2.9],[1294,3.3],[1299,2.6],[1302,2.4],[1307,2.0],[1310,1.8],[1313,2.2],[1318,2.6],[1321,2.9],[1324,3.1],[1329,3.3],[1332,3.0],[1337,3.1],[1340,2.6],[1343,2.3],[1348,2.9],[1351,2.7],[1356,2.2],[1359,2.2],[1362,2.0],[1367,1.9],[1370,2.0],[1373,2.1],[1378,2.5],[1381,3.0],[1384,3.6],[1389,2.8],[1392,2.3],[1397,2.1],[1400,2.0],[1403,2.6],[1408,2.1],[1411,2.6],[1414,3.0],[1419,2.8],[1422,2.6],[1427,2.4],[1430,2.6],[1434,2.4],[1438,2.6],[1441,2.9],[1444,3.3],[1449,3.8],[1452,3.2],[1456,3.0],[1462,4.5],[1467,3.9],[1471,3.0],[1474,2.4],[1479,2.1],[1483,2.0],[1488,2.2],[1493,2.1]];

// ---- layout ----
const W = 1428, H = 1147;
const red = '#ff0000', green = '#00ff00', magenta = '#ff00ff';
const serif = '"Liberation Serif", "Times New Roman", serif';
const sans = '"Liberation Sans", Arial, sans-serif';

const xScale = d3.scaleLinear().domain([800, 1500]).range([153, 1436]);

const panels = [
  {title: 'Perey', ylabel: 'Inelastic (b)', model: pereyModel, data: pereyData.concat(pereyBand), low: pereyLow,
   domain: [1e-3, 8], top: 8, bottom: 340, cross: 8},
  {title: 'Plompen', ylabel: 'Inelastic (b)', model: plompenModel, data: plompenData.concat(plompenBand), low: plompenLow,
   domain: [1e-3, 8], top: 360, bottom: 691, cross: 9},
  {title: 'Harvey', ylabel: 'Total (b)', model: harveyModel, data: harveyData.concat(harveyBand), low: null,
   domain: [0.3, 20], top: 712, bottom: 1042, cross: 10}
];

const svg = d3.select('#chart').attr('width', W).attr('height', H);
const defs = svg.append('defs');

panels.forEach((p, i) => {
  const y = d3.scaleLog().domain(p.domain).range([p.bottom, p.top]);
  const x0 = xScale.range()[0], x1 = xScale.range()[1];

  defs.append('clipPath').attr('id', 'clip' + i)
    .append('rect')
    .attr('x', x0).attr('y', p.top)
    .attr('width', x1 - x0).attr('height', p.bottom - p.top);

  const g = svg.append('g').attr('class', 'panel');
  const plot = g.append('g').attr('clip-path', `url(#clip${i})`);

  // error bars below threshold
  if (p.low) {
    plot.selectAll('line.err')
      .data(p.low)
      .join('line')
      .attr('class', 'err')
      .attr('x1', d => xScale(d[0]))
      .attr('x2', d => xScale(d[0]))
      .attr('y1', d => d[1] - d[2] > 0 ? y(d[1] - d[2]) : p.bottom + 10)
      .attr('y2', d => y(d[1] + d[2]))
      .attr('stroke', green)
      .attr('stroke-width', 2.5);
  }

  // data crosses
  const s = p.cross;
  const pts = (p.low || []).concat(p.data);
  plot.selectAll('path.cross')
    .data(pts)
    .join('path')
    .attr('class', 'cross')
    .attr('d', `M${-s},0H${s}M0,${-s}V${s}`)
    .attr('transform', d => `translate(${xScale(d[0])},${y(d[1])})`)
    .attr('stroke', green)
    .attr('stroke-width', 4)
    .attr('fill', 'none');

  // model curve
  const line = d3.line()
    .x(d => xScale(d[0]))
    .y(d => y(d[1]))
    .curve(d3.curveMonotoneX);
  plot.append('path')
    .datum(p.model)
    .attr('d', line)
    .attr('fill', 'none')
    .attr('stroke', red)
    .attr('stroke-width', 3.5)
    .attr('stroke-linejoin', 'round');

  // frame
  g.append('rect')
    .attr('x', x0).attr('y', p.top)
    .attr('width', x1 - x0).attr('height', p.bottom - p.top)
    .attr('fill', 'none')
    .attr('stroke', red)
    .attr('stroke-width', 3.5);

  // y ticks (log), both sides
  const yt = y.ticks();
  const isMajor = t => Math.abs(Math.log10(t) - Math.round(Math.log10(t))) < 1e-6;
  const tg = g.append('g').attr('stroke', red).attr('stroke-width', 3);
  yt.forEach(t => {
    const len = isMajor(t) ? 20 : 10;
    tg.append('line').attr('x1', x0).attr('x2', x0 + len).attr('y1', y(t)).attr('y2', y(t));
    tg.append('line').attr('x1', x1).attr('x2', x1 - len).attr('y1', y(t)).attr('y2', y(t));
  });

  // x ticks, top and bottom
  d3.range(800, 1501, 50).forEach(e => {
    const len = energyTicks.includes(e) ? 20 : 10;
    tg.append('line').attr('x1', xScale(e)).attr('x2', xScale(e)).attr('y1', p.top).attr('y2', p.top + len);
    tg.append('line').attr('x1', xScale(e)).attr('x2', xScale(e)).attr('y1', p.bottom).attr('y2', p.bottom - len);
  });

  // y tick labels 10^n
  yt.filter(isMajor).forEach(t => {
    const n = Math.round(Math.log10(t));
    const txt = g.append('text')
      .attr('x', 140).attr('y', y(t) + 12)
      .attr('text-anchor', 'end')
      .attr('fill', red)
      .style('font-family', serif)
      .style('font-weight', 'bold')
      .style('font-size', '40px');
    txt.append('tspan').text('10');
    txt.append('tspan')
      .attr('dy', -24)
      .style('font-size', '26px')
      .text(n < 0 ? '\u2212' + (-n) : String(n));
  });

  // y axis title
  g.append('text')
    .attr('transform', `translate(50, ${(p.top + p.bottom) / 2 - 8}) rotate(-90)`)
    .attr('text-anchor', 'middle')
    .attr('fill', red)
    .style('font-family', sans)
    .style('font-weight', 'bold')
    .style('font-size', '40px')
    .style('letter-spacing', '3px')
    .text(p.ylabel);

  // panel title
  g.append('text')
    .attr('x', 641).attr('y', p.top + 45)
    .attr('fill', magenta)
    .style('font-family', sans)
    .style('font-weight', 'bold')
    .style('font-size', '27px')
    .text(p.title);

  // x labels only on the last panel
  if (i === panels.length - 1) {
    energyTicks.forEach(e => {
      g.append('text')
        .attr('x', xScale(e)).attr('y', p.bottom + 48)
        .attr('text-anchor', 'middle')
        .attr('fill', red)
        .style('font-family', serif)
        .style('font-weight', 'bold')
        .style('font-size', '42px')
        .text(e);
    });
    g.append('text')
      .attr('x', 805).attr('y', p.bottom + 95)
      .attr('text-anchor', 'middle')
      .attr('fill', red)
      .style('font-family', serif)
      .style('font-weight', 'bold')
      .style('font-size', '40px')
      .text('Energy (keV)');
  }
});
</script>
</body>
</html>
